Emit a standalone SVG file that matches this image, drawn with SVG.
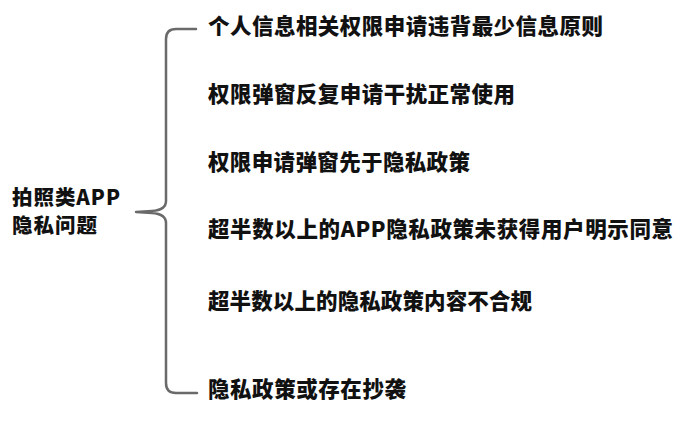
<svg xmlns="http://www.w3.org/2000/svg" width="690" height="442" viewBox="0 0 690 442">
<style>
.t{font-family:"Noto Sans CJK SC","Noto Sans",sans-serif;font-weight:900;font-size:21.5px;fill:#111}
.l{font-size:20.5px}
.br{fill:none;stroke:#6a6a6a;stroke-width:2.5;stroke-linecap:round;stroke-linejoin:round}
</style>
<rect width="690" height="442" fill="#fff"/>
<g id="root">
<text class="t l" x="12" y="204.5" textLength="108" lengthAdjust="spacing">拍照类APP</text>
<text class="t l" x="12" y="233" textLength="85" lengthAdjust="spacing">隐私问题</text>
</g>
<g id="connectors">
<path class="br" d="M196,29 L176,29 Q166,29 166,39 L166,201 Q166,210 152,211 L136,212 L152,213 Q166,214 166,223 L166,383 Q166,393 176,393 L197,393"/>
</g>
<g id="n1"><text class="t" x="208" y="34" textLength="395" lengthAdjust="spacing">个人信息相关权限申请违背最少信息原则</text></g>
<g id="n2"><text class="t" x="208" y="102" textLength="307" lengthAdjust="spacing">权限弹窗反复申请干扰正常使用</text></g>
<g id="n3"><text class="t" x="208" y="169.5" textLength="262" lengthAdjust="spacing">权限申请弹窗先于隐私政策</text></g>
<g id="n4"><text class="t" x="208" y="236.5" textLength="465" lengthAdjust="spacing">超半数以上的APP隐私政策未获得用户明示同意</text></g>
<g id="n5"><text class="t" x="208" y="309" textLength="324" lengthAdjust="spacing">超半数以上的隐私政策内容不合规</text></g>
<g id="n6"><text class="t" x="208" y="396.5" textLength="198" lengthAdjust="spacing">隐私政策或存在抄袭</text></g>
</svg>
